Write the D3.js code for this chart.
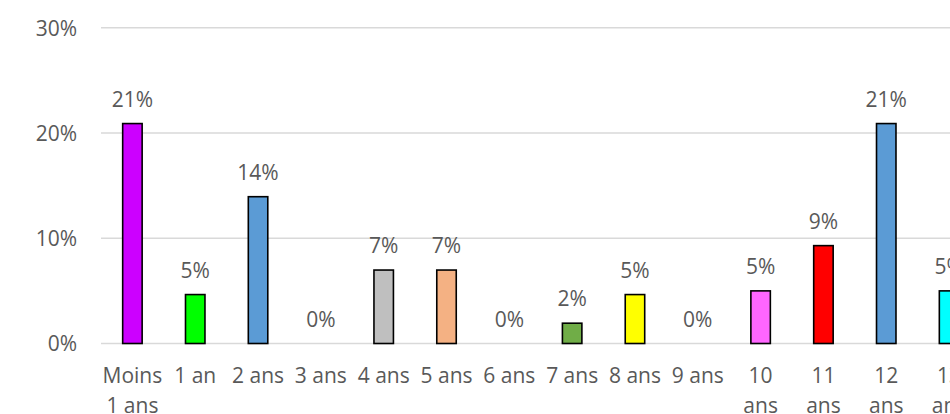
<!DOCTYPE html>
<html>
<head>
<meta charset="utf-8">
<script src="https://cdn.jsdelivr.net/npm/d3@7"></script>
<style>
  html, body { margin: 0; padding: 0; background: #fff; overflow: hidden; }
  svg text { font-family: "Open Sans", sans-serif; fill: #595959; }
</style>
</head>
<body>
<svg id="chart"></svg>
<script>
// Ancienneté (share of respondents per category) — chart is cropped on the right
const categories = ["Moins 1 ans", "1 an", "2 ans", "3 ans", "4 ans", "5 ans", "6 ans",
                    "7 ans", "8 ans", "9 ans", "10 ans", "11 ans", "12 ans", "13 ans"];
const values = [0.209, 0.0465, 0.1395, 0, 0.0698, 0.0698, 0,
                0.0193, 0.0465, 0, 0.05, 0.093, 0.209, 0.05];
const barColors = ["#CC00FF", "#00FF00", "#5B9BD5", "#A5A5A5", "#BFBFBF", "#F4B183", "#A5A5A5",
                   "#70AD47", "#FFFF00", "#A5A5A5", "#FF66FF", "#FF0000", "#5B9BD5", "#00FFFF"];
const yTicks = [0, 0.1, 0.2, 0.3];

const W = 950, H = 414;
const FS = '21px';
const svg = d3.select('#chart').attr('width', W).attr('height', H);

const x = d3.scaleBand()
    .domain(categories)
    .range([101, 101 + categories.length * 62.82])
    .paddingInner(0.69)
    .paddingOuter(0.345);

const y = d3.scaleLinear()
    .domain([0, 0.3])
    .range([343.5, 27.8]);

const pct = d3.format('.0%');

// gridlines
svg.append('g')
    .selectAll('line')
    .data(yTicks)
    .enter().append('line')
    .attr('x1', 101)
    .attr('x2', W + 40)
    .attr('y1', d => y(d))
    .attr('y2', d => y(d))
    .attr('stroke', '#D9D9D9')
    .attr('stroke-width', 1.5);

// y axis labels
const yAxis = svg.append('g')
    .attr('transform', 'translate(77,0)')
    .call(d3.axisLeft(y).tickValues(yTicks).tickFormat(pct).tickSize(0).tickPadding(0));
yAxis.select('.domain').remove();
yAxis.selectAll('text')
    .style('font-size', FS)
    .attr('fill', '#595959')
    .attr('dy', '0.35em');

// bars
svg.append('g')
    .selectAll('rect')
    .data(categories)
    .enter().append('rect')
    .attr('x', d => x(d))
    .attr('y', (d, i) => y(values[i]))
    .attr('width', x.bandwidth())
    .attr('height', (d, i) => y(0) - y(values[i]))
    .attr('fill', (d, i) => barColors[i])
    .attr('stroke', '#000')
    .attr('stroke-width', (d, i) => values[i] > 0 ? 1.6 : 0);

// data labels
svg.append('g')
    .selectAll('text')
    .data(categories)
    .enter().append('text')
    .attr('x', d => x(d) + x.bandwidth() / 2)
    .attr('y', (d, i) => y(values[i]) - 17)
    .attr('text-anchor', 'middle')
    .style('font-size', FS)
    .text((d, i) => pct(values[i]));

// x axis labels, wrapped like the spreadsheet does
const xAxis = svg.append('g')
    .attr('transform', `translate(0, ${y(0)})`)
    .call(d3.axisBottom(x).tickSize(0).tickPadding(0));
xAxis.select('.domain').remove();
xAxis.selectAll('text')
    .style('font-size', FS)
    .attr('fill', '#595959')
    .attr('y', 0)
    .attr('dy', 0)
    .each(function(d) {
        const t = d3.select(this);
        t.text(null);
        const words = d.split(' ');
        let lines = [], line = [];
        const probe = t.append('tspan');
        words.forEach(w => {
            line.push(w);
            probe.text(line.join(' '));
            if (probe.node().getComputedTextLength() > 58 && line.length > 1) {
                line.pop();
                lines.push(line.join(' '));
                line = [w];
            }
        });
        lines.push(line.join(' '));
        probe.remove();
        lines.forEach((l, i) => {
            t.append('tspan')
                .attr('x', 0)
                .attr('y', 39.5 + i * 29.5)
                .text(l);
        });
    });
</script>
</body>
</html>
